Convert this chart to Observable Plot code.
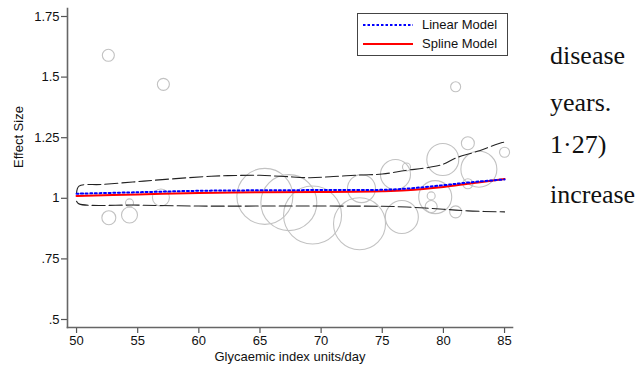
<!DOCTYPE html>
<html>
<head>
<meta charset="utf-8">
<script src="https://cdn.jsdelivr.net/npm/d3@7"></script>
<script src="https://cdn.jsdelivr.net/npm/@observablehq/plot@0.6"></script>
<style>
  html, body { margin: 0; padding: 0; background: #fff; }
  #wrap { position: relative; width: 644px; height: 365px; overflow: hidden; }
  #legend { position: absolute; left: 357px; top: 13px; width: 149px; height: 41px;
            border: 1.2px solid #444; background: #fff; font-family: "Liberation Sans", Arial, sans-serif; font-size: 13px; color: #111; }
  #legend .row { position: absolute; left: 0; height: 16px; }
  #legend svg { position: absolute; left: 5px; top: 0; }
  #legend span { position: absolute; left: 64px; top: 0; line-height: 16px; white-space: nowrap; }
  .side { position: absolute; left: 550px; font-family: "Liberation Serif", "Times New Roman", serif; font-size: 26px; color: #111; white-space: nowrap; line-height: 1; }
</style>
</head>
<body>
<div id="wrap">
  <div id="chart"></div>
  <div id="legend"></div>
  <div id="side"></div>
</div>
<script>
// ---- data ----
const xTicks = [50, 55, 60, 65, 70, 75, 80, 85];
const yTicks = [0.5, 0.75, 1, 1.25, 1.5, 1.75];
const yTickLabels = [".5", ".75", "1", "1.25", "1.5", "1.75"];
const xDomain = [49.26, 85.65];
const yDomain = [0.467, 1.783];
const xLabel = "Glycaemic index units/day";
const yLabel = "Effect Size";

// study bubbles (GI, effect size, weight)
const studyGI = [52.6, 57.1, 81.0, 82.0, 85.0, 52.64, 54.33, 54.33, 56.9, 65.4, 67.36, 69.3, 73.14, 73.3, 76.08, 76.98, 76.6, 79.95, 79.33, 79.0, 79.0, 81.0, 82.0, 82.9];
const studyES = [1.59, 1.47, 1.46, 1.227, 1.19, 0.92, 0.931, 0.981, 1.003, 1.008, 0.982, 0.931, 0.895, 1.04, 1.098, 1.129, 0.923, 1.16, 1.005, 1.01, 0.966, 0.944, 1.06, 1.12];
const studyWeight = [4.3, 4.3, 3.0, 5.0, 3.0, 5.8, 7.6, 1.9, 8.6, 93.2, 93.2, 100, 80.4, 23.3, 26.8, 1.9, 32.4, 30.4, 32.4, 1.9, 4.3, 4.3, 3.0, 38.5];

// linear model
const linGI = [50, 55, 60, 65, 70, 75, 77, 80, 82, 85];
const linES = [1.019, 1.025, 1.031, 1.033, 1.034, 1.035, 1.040, 1.054, 1.065, 1.078];
// spline model
const splGI = [50, 55, 60, 65, 70, 75, 77, 80, 82, 85];
const splES = [1.010, 1.016, 1.022, 1.025, 1.026, 1.029, 1.033, 1.047, 1.060, 1.080];
// confidence bands (spline)
const upGI = [50, 50.2, 52, 54.6, 57, 61, 63, 65, 67, 69.1, 71, 73.2, 75, 76.9, 78.5, 79.9, 81, 82.6, 84.8, 85];
const upES = [1.02, 1.05, 1.057, 1.067, 1.077, 1.091, 1.094, 1.095, 1.09, 1.085, 1.09, 1.096, 1.1, 1.115, 1.125, 1.139, 1.166, 1.191, 1.23, 1.232];
const loGI = [50, 50.2, 55, 60, 65, 70, 75, 77, 80, 82, 85];
const loES = [0.988, 0.977, 0.972, 0.968, 0.968, 0.968, 0.967, 0.964, 0.955, 0.948, 0.944];

const legendLabels = ["Linear Model", "Spline Model"];
const sideText = ["disease", "years.", "1\u00b727)", "increase"];
const sideBaselines = [63, 110, 152, 202];

// ---- build ----
const zip = (xs, ys) => xs.map((x, i) => ({x, y: ys[i]}));
const studies = studyGI.map((x, i) => ({x, y: studyES[i], w: studyWeight[i]}));

const chart = Plot.plot({
  width: 644,
  height: 365,
  marginLeft: 67,
  marginRight: 132,
  marginTop: 8,
  marginBottom: 38,
  style: {fontFamily: "'Liberation Sans', Arial, sans-serif", fontSize: "13px", background: "white", color: "#111", overflow: "visible"},
  x: {domain: xDomain},
  y: {domain: yDomain},
  r: {type: "sqrt", domain: [0, 100], range: [0, 29]},
  marks: [
    Plot.axisX({ticks: xTicks, tickSize: 6, tickPadding: 2, stroke: "#555", strokeWidth: 1.2, label: null, fontSize: 13}),
    Plot.axisY({ticks: yTicks, tickSize: 6, tickPadding: 2, stroke: "#555", strokeWidth: 1.2,
      tickFormat: d => yTickLabels[yTicks.indexOf(d)], label: null, fontSize: 13}),
    Plot.text([xLabel], {frameAnchor: "bottom", dy: 33, fontSize: 13, fill: "#111"}),
    Plot.text([yLabel], {frameAnchor: "left", dx: -49, rotate: -90, fontSize: 13, fill: "#111"}),
    Plot.frame({anchor: "left", stroke: "#666", strokeWidth: 1.6}),
    Plot.frame({anchor: "bottom", stroke: "#666", strokeWidth: 1.6}),
    Plot.dot(studies, {x: "x", y: "y", r: "w", stroke: "#c2c2c2", fill: "none", strokeWidth: 1.1}),
    Plot.line(zip(upGI, upES), {x: "x", y: "y", stroke: "#222", strokeWidth: 1.1, strokeDasharray: "13,4", curve: "catmull-rom"}),
    Plot.line(zip(loGI, loES), {x: "x", y: "y", stroke: "#222", strokeWidth: 1.1, strokeDasharray: "13,4", curve: "catmull-rom"}),
    Plot.line(zip(splGI, splES), {x: "x", y: "y", stroke: "#ff0000", strokeWidth: 2, curve: "catmull-rom"}),
    Plot.line(zip(linGI, linES), {x: "x", y: "y", stroke: "#0000ff", strokeWidth: 2, strokeDasharray: "2,2.6", curve: "catmull-rom"})
  ]
});
document.getElementById("chart").appendChild(chart);

// legend
const legend = document.getElementById("legend");
const styles = [
  {stroke: "#0000ff", dash: "2.5,2", width: 2},
  {stroke: "#ff0000", dash: "", width: 2}
];
const rowTops = [3, 22];
legendLabels.forEach((lab, i) => {
  const row = document.createElement("div");
  row.className = "row";
  row.style.top = rowTops[i] + "px";
  row.style.width = "149px";
  row.innerHTML = `<svg width="52" height="16"><line x1="0" x2="50" y1="8" y2="8" stroke="${styles[i].stroke}" stroke-width="${styles[i].width}" stroke-dasharray="${styles[i].dash}"/></svg><span>${lab}</span>`;
  legend.appendChild(row);
});

// side text fragments
const side = document.getElementById("side");
sideText.forEach((t, i) => {
  const d = document.createElement("div");
  d.className = "side";
  d.textContent = t;
  d.style.top = (sideBaselines[i] - 20) + "px";
  side.appendChild(d);
});
</script>
</body>
</html>
